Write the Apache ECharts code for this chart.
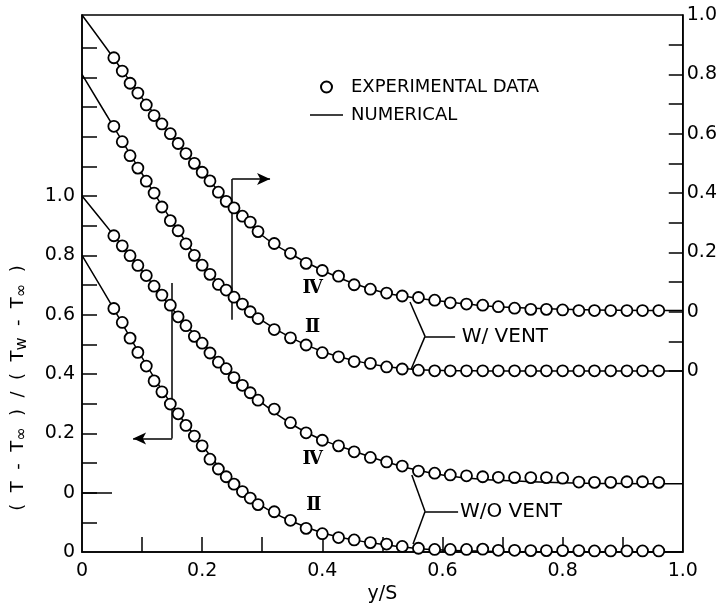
<!DOCTYPE html>
<html>
<head>
<meta charset="utf-8">
<script src="https://cdn.jsdelivr.net/npm/echarts@6/dist/echarts.min.js"></script>
<style>
  html, body { margin: 0; padding: 0; background: #fff; }
  #chart { width: 720px; height: 609px; }
</style>
</head>
<body>
<div id="chart"></div>
<script>
// measured positions y/S
const xs = [0.053, 0.067, 0.080, 0.093, 0.107, 0.120, 0.133, 0.147, 0.160, 0.173, 0.187, 0.200, 0.213, 0.227, 0.240, 0.253, 0.267, 0.280, 0.293,
  0.320, 0.347, 0.373, 0.400, 0.427, 0.453, 0.480, 0.507, 0.533, 0.560, 0.587, 0.613, 0.640, 0.667, 0.693, 0.720, 0.747, 0.773, 0.800, 0.827, 0.853, 0.880, 0.907, 0.933, 0.960];

// experimental data, each curve on its own 0..1 scale
const ivWithExp = [0.856, 0.811, 0.770, 0.737, 0.697, 0.661, 0.633, 0.600, 0.567, 0.533, 0.500, 0.470, 0.441, 0.403, 0.372, 0.350, 0.322, 0.302, 0.270,
  0.230, 0.197, 0.163, 0.139, 0.120, 0.091, 0.076, 0.063, 0.053, 0.048, 0.039, 0.030, 0.026, 0.022, 0.017, 0.012, 0.008, 0.008, 0.006, 0.004, 0.004, 0.004, 0.004, 0.004, 0.004];
const iiWithExp = [0.825, 0.773, 0.726, 0.684, 0.640, 0.600, 0.553, 0.507, 0.473, 0.429, 0.390, 0.357, 0.326, 0.292, 0.273, 0.249, 0.226, 0.200, 0.177,
  0.140, 0.112, 0.088, 0.062, 0.048, 0.032, 0.026, 0.014, 0.007, 0.003, 0.001, 0.001, 0.001, 0.001, 0.001, 0.001, 0.001, 0.001, 0.001, 0.001, 0.001, 0.001, 0.001, 0.001, 0.001];
const ivWithoutExp = [0.866, 0.832, 0.799, 0.766, 0.732, 0.696, 0.666, 0.632, 0.593, 0.563, 0.527, 0.504, 0.471, 0.440, 0.418, 0.388, 0.362, 0.337, 0.312,
  0.282, 0.236, 0.202, 0.177, 0.158, 0.138, 0.119, 0.104, 0.090, 0.073, 0.066, 0.060, 0.057, 0.054, 0.052, 0.051, 0.051, 0.051, 0.049, 0.036, 0.035, 0.035, 0.037, 0.037, 0.035];
const iiWithoutExp = [0.821, 0.774, 0.721, 0.673, 0.627, 0.577, 0.540, 0.499, 0.466, 0.427, 0.391, 0.358, 0.313, 0.280, 0.254, 0.229, 0.204, 0.182, 0.160,
  0.136, 0.107, 0.080, 0.062, 0.049, 0.041, 0.032, 0.027, 0.019, 0.013, 0.009, 0.009, 0.009, 0.010, 0.006, 0.006, 0.005, 0.005, 0.005, 0.005, 0.004, 0.004, 0.004, 0.004, 0.004];

// numerical solution
const numXs = [0, 0.05, 0.10, 0.15, 0.20, 0.25, 0.30, 0.35, 0.40, 0.45, 0.50, 0.55, 0.60, 0.65, 0.70, 0.80, 0.90, 1.00];
const ivWithNum = [1.0, 0.862, 0.720, 0.590, 0.470, 0.357, 0.257, 0.192, 0.140, 0.097, 0.066, 0.048, 0.035, 0.024, 0.016, 0.008, 0.005, 0.004];
const iiWithNum = [1.0, 0.832, 0.665, 0.505, 0.360, 0.250, 0.170, 0.110, 0.066, 0.037, 0.017, 0.006, 0.002, 0.001, 0, 0, 0, 0];
const ivWithoutNum = [1.0, 0.875, 0.748, 0.620, 0.505, 0.395, 0.302, 0.230, 0.178, 0.142, 0.108, 0.080, 0.060, 0.048, 0.041, 0.034, 0.031, 0.030];
const iiWithoutNum = [1.0, 0.830, 0.655, 0.495, 0.360, 0.237, 0.155, 0.103, 0.065, 0.042, 0.026, 0.014, 0.007, 0.004, 0.002, 0.001, 0, 0];

// curves are staggered on the plot, as in the original figure
const shiftIvWith = 0;      // right scale
const shiftIiWith = -0.2;   // right scale, lower zero
const shiftIvWithout = 0.2; // left scale
const shiftIiWithout = 0;   // left scale, lower zero

// ticks and labels
const xTickValues = [0.1, 0.2, 0.3, 0.4, 0.5, 0.6, 0.7, 0.8, 0.9];
const xLabelValues = [0, 0.2, 0.4, 0.6, 0.8, 1.0];
const xLabelTexts = ['0', '0.2', '0.4', '0.6', '0.8', '1.0'];
const leftTickValues = [0.1, 0.2, 0.3, 0.4, 0.5, 0.6, 0.7, 0.8, 0.9, 1.0, 1.1, 1.2, 1.3, 1.4, 1.5, 1.6, 1.7];
const leftLabelValues = [0, 0.2, 0.4, 0.6, 0.8, 1.0, 1.2];
const leftLabelTexts = ['0', '0', '0.2', '0.4', '0.6', '0.8', '1.0'];
const rightTickValues = [-0.2, -0.1, 0, 0.1, 0.2, 0.3, 0.4, 0.5, 0.6, 0.7, 0.8, 0.9];
const rightLabelValues = [-0.2, 0, 0.2, 0.4, 0.6, 0.8, 1.0];
const rightLabelTexts = ['0', '0', '0.2', '0.4', '0.6', '0.8', '1.0'];

const FONT = 'DejaVu Sans';
const INK = '#000';

const lookup = (values, texts) => (v) => {
  const i = values.findIndex((u) => Math.abs(u - v) < 1e-6);
  return i >= 0 ? texts[i] : '';
};

const expSeries = (vals, shift, yAxisIndex) => ({
  name: 'EXPERIMENTAL DATA',
  type: 'scatter',
  yAxisIndex,
  data: xs.map((x, i) => [x, vals[i] + shift]),
  symbol: 'circle',
  symbolSize: 11,
  itemStyle: { color: '#fff', borderColor: INK, borderWidth: 1.8, opacity: 1 },
  z: 5,
  silent: true,
});

const numSeries = (vals, shift, yAxisIndex) => ({
  name: 'NUMERICAL',
  type: 'line',
  yAxisIndex,
  data: numXs.map((x, i) => [x, vals[i] + shift]),
  smooth: 0.4,
  symbol: 'none',
  lineStyle: { color: INK, width: 1.5 },
  itemStyle: { color: INK },
  z: 3,
  silent: true,
});

// annotation strokes, in left-axis data units
const seg = (a, b, arrow) => [
  { coord: a, symbol: 'none' },
  { coord: b, symbol: arrow ? 'arrow' : 'none' },
];
const annotationLines = [
  seg([0, 0.2], [0.05, 0.2]),
  seg([0.25, 0.783], [0.25, 1.257]),
  seg([0.25, 1.257], [0.313, 1.257], true),
  seg([0.15, 0.907], [0.15, 0.383]),
  seg([0.15, 0.383], [0.085, 0.383], true),
  seg([0.546, 0.843], [0.571, 0.727]),
  seg([0.571, 0.727], [0.548, 0.617]),
  seg([0.571, 0.727], [0.621, 0.727]),
  seg([0.549, 0.260], [0.571, 0.137]),
  seg([0.571, 0.137], [0.551, 0.027]),
  seg([0.571, 0.137], [0.626, 0.137]),
];

const chart = echarts.init(document.getElementById('chart'));

chart.setOption({
  animation: false,
  backgroundColor: '#fff',
  textStyle: { fontFamily: FONT, color: INK },
  grid: {
    left: 82, right: 37, top: 15, bottom: 51,
    show: true, borderColor: INK, borderWidth: 1.5,
  },
  legend: {
    orient: 'vertical',
    left: 305,
    top: 73,
    itemWidth: 33,
    itemHeight: 11,
    itemGap: 10,
    selectedMode: false,
    data: [
      { name: 'EXPERIMENTAL DATA' },
      { name: 'NUMERICAL', icon: 'path://M0,0L33,0L33,1.6L0,1.6Z', itemStyle: { color: INK } },
    ],
    textStyle: { fontFamily: FONT, fontSize: 18, color: INK, padding: [0, 0, 0, 3] },
  },
  xAxis: {
    type: 'value',
    min: 0,
    max: 1,
    name: 'y/S',
    nameLocation: 'middle',
    nameGap: 29,
    nameTextStyle: { fontSize: 19, color: INK },
    axisLine: { show: true, lineStyle: { color: INK, width: 1.5 } },
    axisTick: { show: true, inside: true, length: 15, customValues: xTickValues, lineStyle: { color: INK, width: 1.5 } },
    axisLabel: { customValues: xLabelValues, formatter: lookup(xLabelValues, xLabelTexts), margin: 9, fontSize: 19, color: INK },
    splitLine: { show: false },
  },
  yAxis: [
    {
      type: 'value',
      position: 'left',
      min: 0,
      max: 1.81,
      axisLine: { show: true, lineStyle: { color: INK, width: 1.5 } },
      axisTick: { show: true, inside: true, length: 15, customValues: leftTickValues, lineStyle: { color: INK, width: 1.5 } },
      axisLabel: { customValues: leftLabelValues, formatter: lookup(leftLabelValues, leftLabelTexts), margin: 7, fontSize: 19, color: INK },
      splitLine: { show: false },
    },
    {
      type: 'value',
      position: 'right',
      min: -0.81,
      max: 1.0,
      axisLine: { show: true, lineStyle: { color: INK, width: 1.5 } },
      axisTick: { show: true, inside: true, length: 14, customValues: rightTickValues, lineStyle: { color: INK, width: 1.5 } },
      axisLabel: { customValues: rightLabelValues, formatter: lookup(rightLabelValues, rightLabelTexts), margin: 4, fontSize: 19, color: INK },
      splitLine: { show: false },
    },
  ],
  series: [
    numSeries(ivWithNum, shiftIvWith, 1),
    numSeries(iiWithNum, shiftIiWith, 1),
    numSeries(ivWithoutNum, shiftIvWithout, 0),
    {
      ...numSeries(iiWithoutNum, shiftIiWithout, 0),
      markLine: {
        silent: true,
        symbolSize: [9, 13],
        label: { show: false },
        lineStyle: { color: INK, width: 1.5, type: 'solid' },
        data: annotationLines,
      },
    },
    expSeries(ivWithExp, shiftIvWith, 1),
    expSeries(iiWithExp, shiftIiWith, 1),
    expSeries(ivWithoutExp, shiftIvWithout, 0),
    expSeries(iiWithoutExp, shiftIiWithout, 0),
  ],
});

// text annotations placed in data units
const textAt = (coord, text, opts) => {
  const [x, y] = chart.convertToPixel({ xAxisIndex: 0, yAxisIndex: 0 }, coord);
  return {
    type: 'text', x, y, silent: true, z: 10,
    style: Object.assign({ text, fill: INK, font: '20px ' + FONT, align: 'left', verticalAlign: 'middle' }, opts),
  };
};
const roman = '18px "DejaVu Serif"';

chart.setOption({
  graphic: [
    textAt([0.632, 0.727], 'W/ VENT'),
    textAt([0.629, 0.137], 'W/O VENT'),
    textAt([0.384, 0.890], 'Ⅳ', { font: 'bold ' + roman, align: 'center' }),
    textAt([0.384, 0.757], 'Ⅱ', { font: 'bold ' + roman, align: 'center' }),
    textAt([0.384, 0.313], 'Ⅳ', { font: 'bold ' + roman, align: 'center' }),
    textAt([0.386, 0.157], 'Ⅱ', { font: 'bold ' + roman, align: 'center' }),
    {
      type: 'text',
      x: 18,
      y: 388,
      rotation: Math.PI / 2,
      silent: true,
      style: {
        text: '{m|(  T  -  T}{s|∞}{m|  )  /  (  T}{s|w}{m|  -  T}{s|∞}{m|  )}',
        align: 'center',
        verticalAlign: 'middle',
        fill: INK,
        rich: {
          m: { fontFamily: FONT, fontSize: 18, lineHeight: 24, fill: INK },
          s: { fontFamily: FONT, fontSize: 16, lineHeight: 16, verticalAlign: 'bottom', fill: INK },
        },
      },
    },
  ],
});
</script>
</body>
</html>
